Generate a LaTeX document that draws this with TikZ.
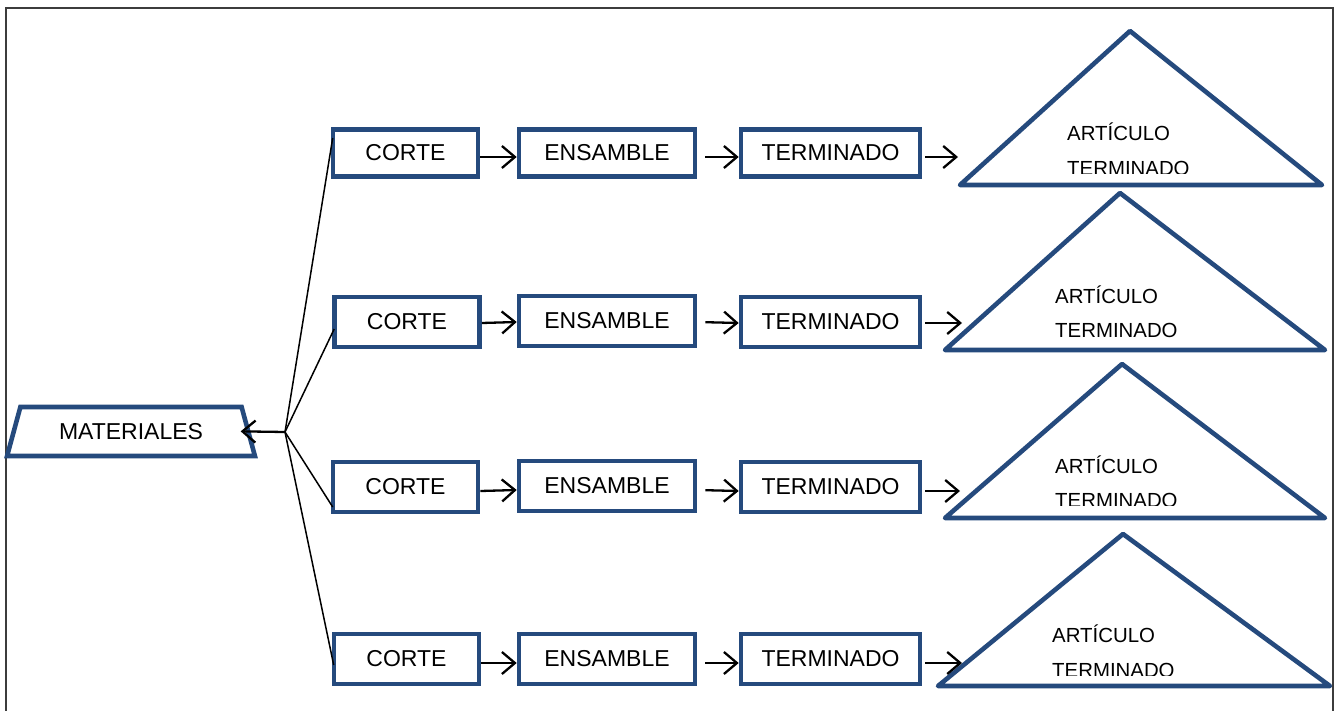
\documentclass[tikz,border=0pt]{standalone}
\usepackage{fontspec}
\setmainfont{Liberation Sans}
\usetikzlibrary{arrows.meta,shapes.geometric}
\definecolor{shapeblue}{RGB}{37,74,125}
\definecolor{framegray}{RGB}{60,60,60}
\begin{document}
\begin{tikzpicture}[x=1pt,y=-1pt,
  box/.style={draw=shapeblue, line width=4.6pt, inner sep=0pt, minimum height=50pt,
    font=\fontsize{23}{27}\selectfont},
  cbox/.style={box, minimum width=145pt},
  ebox/.style={box, minimum width=176pt},
  tbox/.style={box, minimum width=179pt},
  flow/.style={-{Straight Barb[length=13pt,width=22pt]}, line width=2.3pt, draw=black},
  link/.style={line width=1.5pt, draw=black},
  tri/.style={draw=shapeblue, line width=4.6pt, line join=round},
  tritext/.style={anchor=base west, inner sep=0pt, font=\fontsize{20.4}{#1}\selectfont},
  tritext/.default=34,
  frame/.style={draw=framegray, line width=1.5pt}]
\useasboundingbox (0,0) rectangle (1340,711);
\draw[frame] (6,711) -- (6,8) -- (1333,8) -- (1333,711);

% source
\node[draw=shapeblue, line width=4.6pt, trapezium, trapezium angle=62,
  trapezium stretches=true, minimum width=248pt, minimum height=49pt, inner sep=0pt,
  font=\fontsize{23}{27}\selectfont] (M) at (131,431.5) {MATERIALES};
\coordinate (hub) at (285,432);

% row 1
\node[cbox, minimum height=47pt] (C1) at (405.5,153) {CORTE};
\node[ebox, minimum height=47pt] (E1) at (607,153) {ENSAMBLE};
\node[tbox, minimum height=47pt] (T1) at (830.5,153) {TERMINADO};
\draw[tri] (1130,31) -- (1322,185) -- (960,185) -- cycle;
\begin{scope}
\clip (940,100) rectangle (1330,173.5);
\node[tritext=35] (A1) at (1067,141) {\begin{tabular}[t]{@{}l@{}}ARTÍCULO\\TERMINADO\end{tabular}};
\end{scope}
\coordinate (a1) at (958,157);

% row 2
\node[cbox] (C2) at (407,322) {CORTE};
\node[ebox] (E2) at (607,321) {ENSAMBLE};
\node[tbox] (T2) at (830.5,322) {TERMINADO};
\draw[tri] (1120,193) -- (1325,350) -- (945,350) -- cycle;
\node[tritext] (A2) at (1055,303) {\begin{tabular}[t]{@{}l@{}}ARTÍCULO\\TERMINADO\end{tabular}};
\coordinate (a2) at (962,323);

% row 3
\node[cbox] (C3) at (405.5,487) {CORTE};
\node[ebox] (E3) at (607,486) {ENSAMBLE};
\node[tbox] (T3) at (830.5,487) {TERMINADO};
\draw[tri] (1122,364) -- (1325,518) -- (945,518) -- cycle;
\begin{scope}
\clip (940,430) rectangle (1330,505.5);
\node[tritext] (A3) at (1055,473) {\begin{tabular}[t]{@{}l@{}}ARTÍCULO\\TERMINADO\end{tabular}};
\end{scope}
\coordinate (a3) at (960,491);

% row 4
\node[cbox] (C4) at (406.5,659) {CORTE};
\node[ebox] (E4) at (607,659) {ENSAMBLE};
\node[tbox] (T4) at (830.5,659) {TERMINADO};
\draw[tri] (1123,534) -- (1330,686) -- (938,686) -- cycle;
\begin{scope}
\clip (930,600) rectangle (1335,675.5);
\node[tritext=35] (A4) at (1052,642) {\begin{tabular}[t]{@{}l@{}}ARTÍCULO\\TERMINADO\end{tabular}};
\end{scope}
\coordinate (a4) at (962,663);

% hub connectors
\draw[flow, shorten >=-10pt] (hub) -- (M.east);
\draw[link] (hub) -- ([xshift=2pt,yshift=15pt]C1.west);
\draw[link] (hub) -- ([xshift=2pt,yshift=-7pt]C2.west);
\draw[link] (hub) -- ([xshift=2pt,yshift=-20pt]C3.west);
\draw[link] (hub) -- ([xshift=2pt,yshift=-6pt]C4.west);

% flow arrows
\draw[flow] ([yshift=-4pt]C1.east) -- ([yshift=-4pt]E1.west);
\draw[flow, shorten <=8pt] ([yshift=-4pt]E1.east) -- ([yshift=-4pt]T1.west);
\draw[flow, shorten <=3pt] ([yshift=-4pt]T1.east) -- (a1);

\draw[flow] ([yshift=-1pt]C2.east) -- ([yshift=-1pt]E2.west);
\draw[flow, shorten <=8pt] ([yshift=-1pt]E2.east) -- ([yshift=-1pt]T2.west);
\draw[flow, shorten <=3pt] ([yshift=-1pt]T2.east) -- (a2);

\draw[flow] ([yshift=-4pt]C3.east) -- ([yshift=-4pt]E3.west);
\draw[flow, shorten <=8pt] ([yshift=-4pt]E3.east) -- ([yshift=-4pt]T3.west);
\draw[flow, shorten <=3pt] ([yshift=-4pt]T3.east) -- (a3);

\draw[flow] ([yshift=-4pt]C4.east) -- ([yshift=-4pt]E4.west);
\draw[flow, shorten <=8pt] ([yshift=-4pt]E4.east) -- ([yshift=-4pt]T4.west);
\draw[flow, shorten <=3pt] ([yshift=-4pt]T4.east) -- (a4);
\end{tikzpicture}
\end{document}
